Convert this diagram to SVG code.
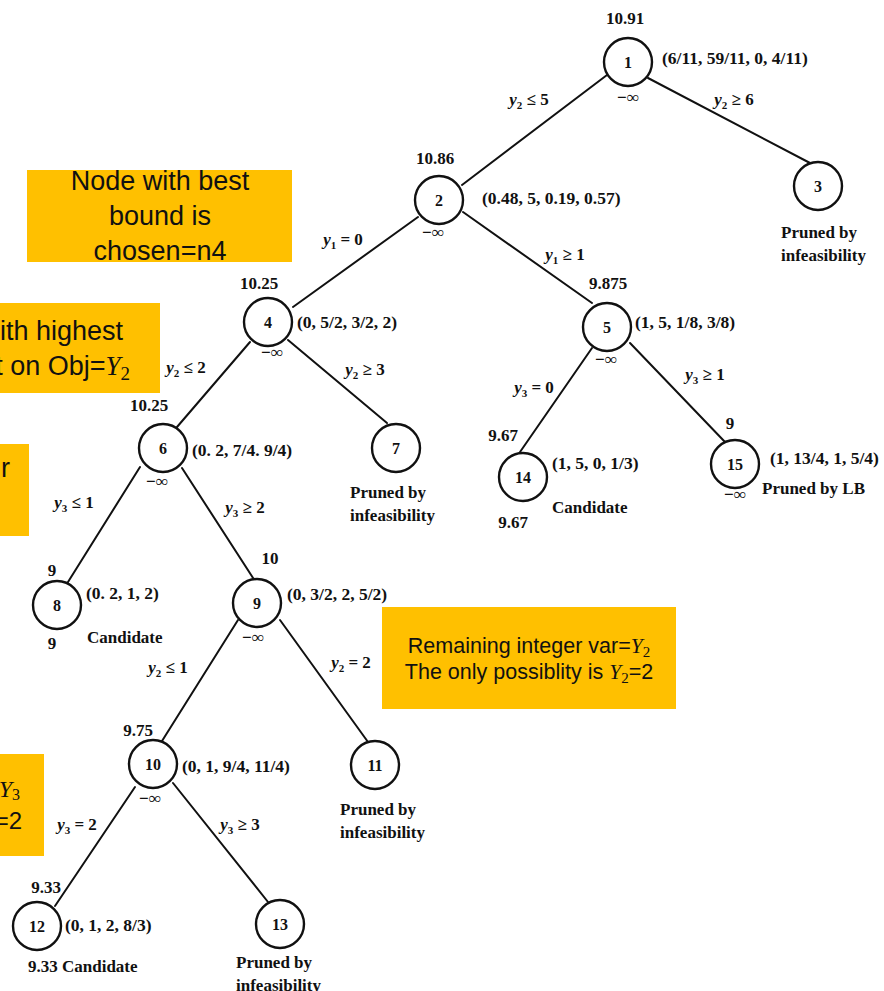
<svg xmlns="http://www.w3.org/2000/svg" width="884" height="991" viewBox="0 0 884 991">
  <style>
    .n circle { fill: #fff; stroke: #111; stroke-width: 2.4; }
    .t { font-family: "Liberation Serif", "Times New Roman", serif; font-weight: bold; font-size: 17px; fill: #111; }
    .m { text-anchor: middle; }
    .num { font-family: "Liberation Serif", "Times New Roman", serif; font-weight: bold; font-size: 16px; fill: #111; text-anchor: middle; }
    .tup { font-family: "Liberation Serif", "Times New Roman", serif; font-weight: bold; font-size: 17.5px; fill: #111; }
    .edges line { stroke: #111; stroke-width: 2; stroke-linecap: round; }
    .el { font-family: "Liberation Serif", "Times New Roman", serif; font-weight: bold; font-size: 17px; fill: #111; text-anchor: middle; }
    .v { font-style: italic; }
    .s { font-size: 11px; }
    .note rect { fill: #FFC000; }
    .bt { font-family: "Liberation Sans", Arial, sans-serif; fill: #111; }
    .mi { font-family: "Liberation Serif", "Times New Roman", serif; font-style: italic; }
    .ms { font-family: "Liberation Serif", "Times New Roman", serif; }
  </style>

  <rect width="884" height="991" fill="#fff"/>

  <!-- branch connectors -->
  <g id="connectors" class="edges">
    <line x1="607" y1="75" x2="462" y2="185"/>
    <line x1="648" y1="78" x2="810" y2="163"/>
    <line x1="418" y1="217" x2="293" y2="307"/>
    <line x1="463" y1="212" x2="592" y2="303"/>
    <line x1="250" y1="342" x2="177" y2="427"/>
    <line x1="288" y1="340" x2="387" y2="423"/>
    <line x1="592" y1="348" x2="520" y2="452"/>
    <line x1="630" y1="343" x2="725" y2="442"/>
    <line x1="140" y1="467" x2="68" y2="582"/>
    <line x1="182" y1="468" x2="255" y2="581"/>
    <line x1="238" y1="620" x2="162" y2="741"/>
    <line x1="280" y1="620" x2="368" y2="742"/>
    <line x1="135" y1="787" x2="55" y2="906"/>
    <line x1="173" y1="783" x2="268" y2="902"/>
  </g>

  <!-- branching constraints -->
  <g id="branch-labels">
    <text class="el" x="529" y="105"><tspan class="v">y</tspan><tspan class="s" dy="4">2</tspan><tspan dy="-4"> ≤ 5</tspan></text>
    <text class="el" x="734" y="105"><tspan class="v">y</tspan><tspan class="s" dy="4">2</tspan><tspan dy="-4"> ≥ 6</tspan></text>
    <text class="el" x="343" y="245"><tspan class="v">y</tspan><tspan class="s" dy="4">1</tspan><tspan dy="-4"> = 0</tspan></text>
    <text class="el" x="565" y="260"><tspan class="v">y</tspan><tspan class="s" dy="4">1</tspan><tspan dy="-4"> ≥ 1</tspan></text>
    <text class="el" x="186" y="373"><tspan class="v">y</tspan><tspan class="s" dy="4">2</tspan><tspan dy="-4"> ≤ 2</tspan></text>
    <text class="el" x="365" y="375"><tspan class="v">y</tspan><tspan class="s" dy="4">2</tspan><tspan dy="-4"> ≥ 3</tspan></text>
    <text class="el" x="534" y="393"><tspan class="v">y</tspan><tspan class="s" dy="4">3</tspan><tspan dy="-4"> = 0</tspan></text>
    <text class="el" x="705" y="380"><tspan class="v">y</tspan><tspan class="s" dy="4">3</tspan><tspan dy="-4"> ≥ 1</tspan></text>
    <text class="el" x="74" y="508"><tspan class="v">y</tspan><tspan class="s" dy="4">3</tspan><tspan dy="-4"> ≤ 1</tspan></text>
    <text class="el" x="245" y="513"><tspan class="v">y</tspan><tspan class="s" dy="4">3</tspan><tspan dy="-4"> ≥ 2</tspan></text>
    <text class="el" x="168" y="673"><tspan class="v">y</tspan><tspan class="s" dy="4">2</tspan><tspan dy="-4"> ≤ 1</tspan></text>
    <text class="el" x="351" y="668"><tspan class="v">y</tspan><tspan class="s" dy="4">2</tspan><tspan dy="-4"> = 2</tspan></text>
    <text class="el" x="77" y="830"><tspan class="v">y</tspan><tspan class="s" dy="4">3</tspan><tspan dy="-4"> = 2</tspan></text>
    <text class="el" x="240" y="830"><tspan class="v">y</tspan><tspan class="s" dy="4">3</tspan><tspan dy="-4"> ≥ 3</tspan></text>
  </g>

  <!-- tree nodes -->
  <g id="node1" class="n">
    <circle cx="628" cy="62" r="24"/>
    <text class="num" x="628" y="68">1</text>
    <text class="t m" x="625" y="24">10.91</text>
    <text class="tup" x="662" y="64">(6/11, 59/11, 0, 4/11)</text>
    <text class="t m" x="628" y="103">−∞</text>
  </g>
  <g id="node2" class="n">
    <circle cx="439" cy="200" r="24"/>
    <text class="num" x="439" y="206">2</text>
    <text class="t m" x="435" y="164">10.86</text>
    <text class="tup" x="482" y="204">(0.48, 5, 0.19, 0.57)</text>
    <text class="t m" x="433" y="238">−∞</text>
  </g>
  <g id="node3" class="n">
    <circle cx="818" cy="186" r="24"/>
    <text class="num" x="818" y="192">3</text>
    <text class="t" x="781" y="238">Pruned by</text>
    <text class="t" x="781" y="261">infeasibility</text>
  </g>
  <g id="node4" class="n">
    <circle cx="268" cy="322" r="24"/>
    <text class="num" x="268" y="328">4</text>
    <text class="t m" x="259" y="289">10.25</text>
    <text class="tup" x="297" y="328">(0, 5/2, 3/2, 2)</text>
    <text class="t m" x="272" y="358">−∞</text>
  </g>
  <g id="node5" class="n">
    <circle cx="607" cy="327" r="24"/>
    <text class="num" x="607" y="333">5</text>
    <text class="t m" x="608" y="289">9.875</text>
    <text class="tup" x="635" y="328">(1, 5, 1/8, 3/8)</text>
    <text class="t m" x="606" y="365">−∞</text>
  </g>
  <g id="node6" class="n">
    <circle cx="163" cy="448" r="24"/>
    <text class="num" x="163" y="454">6</text>
    <text class="t m" x="149" y="411">10.25</text>
    <text class="tup" x="192" y="456">(0. 2, 7/4. 9/4)</text>
    <text class="t m" x="157" y="487">−∞</text>
  </g>
  <g id="node7" class="n">
    <circle cx="396" cy="448" r="24"/>
    <text class="num" x="396" y="454">7</text>
    <text class="t" x="350" y="498">Pruned by</text>
    <text class="t" x="350" y="521">infeasibility</text>
  </g>
  <g id="node8" class="n">
    <circle cx="57" cy="605" r="24"/>
    <text class="num" x="57" y="611">8</text>
    <text class="t m" x="52" y="576">9</text>
    <text class="tup" x="86" y="599">(0. 2, 1, 2)</text>
    <text class="t" x="87" y="643">Candidate</text>
    <text class="t m" x="52" y="649">9</text>
  </g>
  <g id="node9" class="n">
    <circle cx="257" cy="603" r="24"/>
    <text class="num" x="257" y="609">9</text>
    <text class="t m" x="270" y="564">10</text>
    <text class="tup" x="287" y="600">(0, 3/2, 2, 5/2)</text>
    <text class="t m" x="253" y="643">−∞</text>
  </g>
  <g id="node10" class="n">
    <circle cx="153" cy="764" r="24"/>
    <text class="num" x="153" y="770">10</text>
    <text class="t m" x="138" y="736">9.75</text>
    <text class="tup" x="182" y="772">(0, 1, 9/4, 11/4)</text>
    <text class="t m" x="150" y="804">−∞</text>
  </g>
  <g id="node11" class="n">
    <circle cx="375" cy="765" r="24"/>
    <text class="num" x="375" y="771">11</text>
    <text class="t" x="340" y="815">Pruned by</text>
    <text class="t" x="340" y="838">infeasibility</text>
  </g>
  <g id="node12" class="n">
    <circle cx="37" cy="926" r="24"/>
    <text class="num" x="37" y="932">12</text>
    <text class="t m" x="46" y="893">9.33</text>
    <text class="tup" x="65" y="931">(0, 1, 2, 8/3)</text>
    <text class="t" x="28" y="972">9.33 Candidate</text>
  </g>
  <g id="node13" class="n">
    <circle cx="280" cy="924" r="24"/>
    <text class="num" x="280" y="930">13</text>
    <text class="t" x="236" y="968">Pruned by</text>
    <text class="t" x="236" y="991">infeasibility</text>
  </g>
  <g id="node14" class="n">
    <circle cx="523" cy="477" r="24"/>
    <text class="num" x="523" y="483">14</text>
    <text class="t m" x="503" y="441">9.67</text>
    <text class="tup" x="552" y="469">(1, 5, 0, 1/3)</text>
    <text class="t" x="552" y="513">Candidate</text>
    <text class="t m" x="513" y="528">9.67</text>
  </g>
  <g id="node15" class="n">
    <circle cx="735" cy="464" r="24"/>
    <text class="num" x="735" y="470">15</text>
    <text class="t m" x="730" y="429">9</text>
    <text class="tup" x="770" y="464">(1, 13/4, 1, 5/4)</text>
    <text class="t" x="762" y="494">Pruned by LB</text>
    <text class="t m" x="735" y="500">−∞</text>
  </g>

  <!-- callout notes -->
  <g id="note-best-bound" class="note">
    <rect x="27" y="170" width="265" height="92"/>
    <text class="bt" font-size="27" text-anchor="middle" x="160" y="190">Node with best</text>
    <text class="bt" font-size="27" text-anchor="middle" x="160" y="225">bound is</text>
    <text class="bt" font-size="27" text-anchor="middle" x="160" y="260">chosen=n4</text>
  </g>
  <g id="note-highest-impact" class="note">
    <rect x="0" y="303" width="160" height="90"/>
    <text class="bt" font-size="27" text-anchor="end" x="123" y="340">ith highest</text>
    <text class="bt" font-size="27" text-anchor="end" x="130" y="375">t on Obj=<tspan class="mi">Y</tspan><tspan class="ms" font-size="19" dy="5">2</tspan></text>
  </g>
  <g id="note-var" class="note">
    <rect x="0" y="444" width="29" height="92"/>
    <text class="bt" font-size="27" text-anchor="end" x="10" y="477">r</text>
  </g>
  <g id="note-remaining" class="note">
    <rect x="382" y="607" width="294" height="102"/>
    <text class="bt" font-size="21.5" text-anchor="middle" x="529" y="653">Remaining integer var=<tspan class="mi">Y</tspan><tspan class="ms" font-size="15" dy="4">2</tspan></text>
    <text class="bt" font-size="21.5" text-anchor="middle" x="529" y="679">The only possiblity is <tspan class="mi">Y</tspan><tspan class="ms" font-size="15" dy="4">2</tspan><tspan dy="-4">=2</tspan></text>
  </g>
  <g id="note-y3" class="note">
    <rect x="0" y="754" width="44" height="102"/>
    <text class="bt" font-size="24" text-anchor="end" x="20" y="797"><tspan class="mi">Y</tspan><tspan class="ms" font-size="16" dy="3">3</tspan></text>
    <text class="bt" font-size="24" text-anchor="end" x="22" y="829">=2</text>
  </g>
</svg>
